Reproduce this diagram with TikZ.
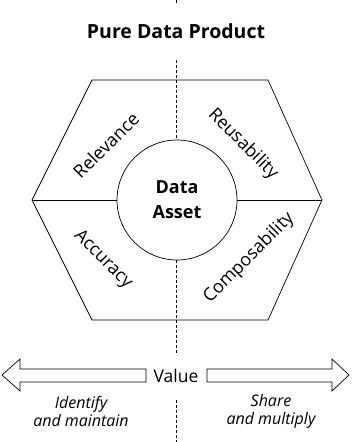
\documentclass[tikz,border=0pt]{standalone}
\usepackage{fontspec}
\setmainfont{Open Sans}
\usetikzlibrary{positioning}

\begin{document}
\begin{tikzpicture}[x=1pt, y=-1pt, line width=0.7pt,
    facet/.style={font=\fontsize{18}{20}\selectfont, inner sep=0pt},
    note/.style={font=\fontsize{16}{18}\selectfont\itshape, align=center, inner sep=0pt}]
    \useasboundingbox (0,0) rectangle (351,442);
    % dashed axis, covered by the white nodes
    \coordinate (axtop) at (176,0);
    \coordinate (axbot) at (176,442);
    \draw[dashed, dash pattern=on 3pt off 2pt, line width=0.6pt] (axtop) -- (axbot);
    \node[fill=white, minimum width=196pt, minimum height=56pt, font=\fontsize{19.5}{22}\selectfont\bfseries] (title) at (176,31) {Pure Data Product};
    % hexagon
    \coordinate (H1) at (92,80);
    \coordinate (H2) at (268,80);
    \coordinate (H3) at (322,200);
    \coordinate (H4) at (268,320);
    \coordinate (H5) at (92,320);
    \coordinate (H6) at (32,200);
    \draw (H1) -- (H2) -- (H3) -- (H4) -- (H5) -- (H6) -- cycle;
    \node[draw, circle, fill=white, minimum size=120pt, inner sep=0pt, align=center,
          font=\fontsize{18}{25}\selectfont\bfseries] (asset) at (177,200) {Data\\Asset};
    \draw (H6) -- (asset.west);
    \draw (asset.east) -- (H3);
    % the four qualities
    \node[facet, rotate=45] (relev) at (106,145) {Relevance};
    \node[facet, rotate=-45] (reuse) at (243,144) {Reusability};
    \node[facet, rotate=-45] (accur) at (103,260) {Accuracy};
    \node[facet, rotate=45] (compo) at (249,258) {Composability};
    % value arrows
    \node[fill=white, minimum height=46pt, inner xsep=4pt, font=\fontsize{17.5}{20}\selectfont] (value) at (176,376) {Value};
    \draw (146,369) -- (20,369) -- (20,359) -- (2,375) -- (20,391) -- (20,382) -- (146,382) -- cycle;
    \draw (207,369) -- (332,369) -- (332,359) -- (349,375) -- (332,391) -- (332,382) -- (207,382) -- cycle;
    \node[note] (ident) at (81,411) {Identify\\and maintain};
    \node[note] (share) at (271,411) {Share\\and multiply};
\end{tikzpicture}
\end{document}
